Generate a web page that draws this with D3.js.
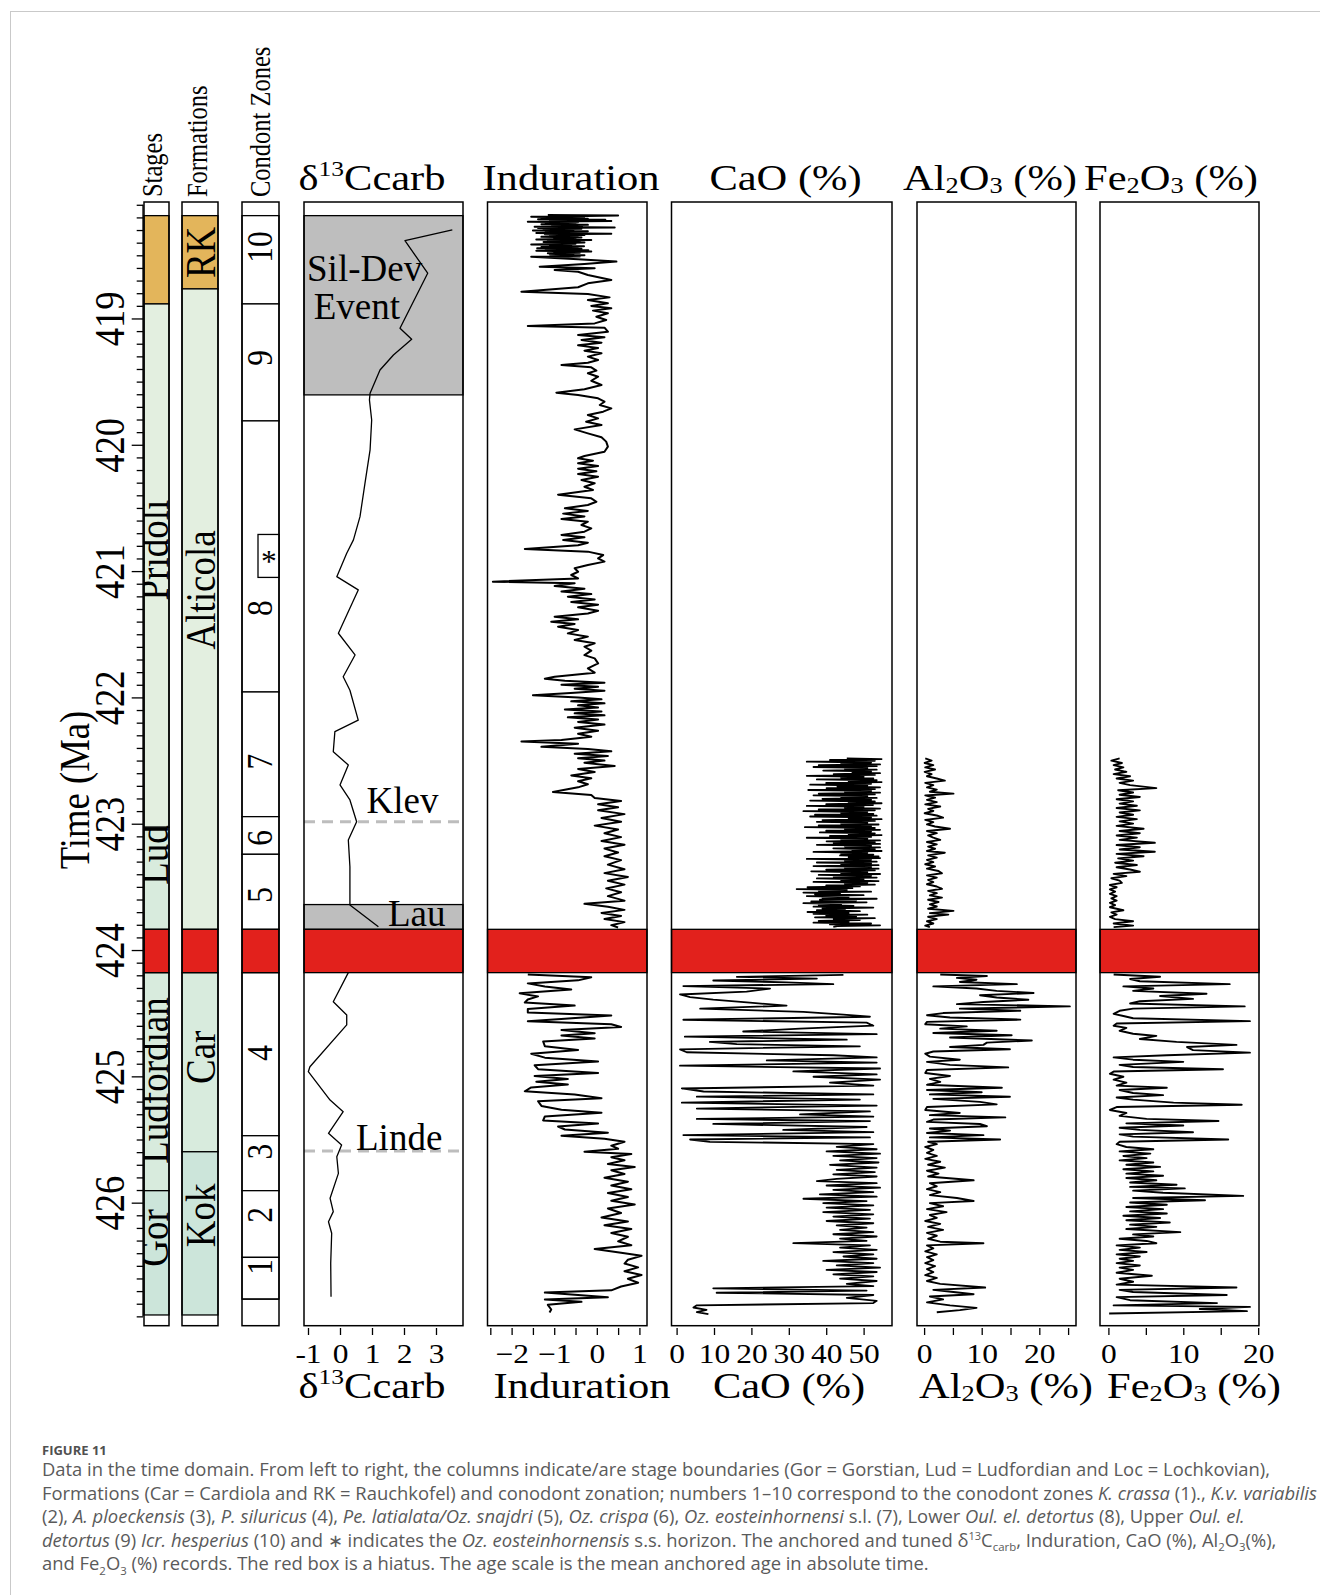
<!DOCTYPE html>
<html>
<head>
<meta charset="utf-8">
<script src="https://cdn.jsdelivr.net/npm/d3@7"></script>
<style>
  html, body { margin: 0; padding: 0; background: #fff; }
  svg { display: block; }
</style>
</head>
<body>
<svg id="fig" width="1320" height="1595"></svg>
<script>
// ---------------- data (ages in Ma) ----------------
const hiatus = [423.836, 424.179];

const stages = [
  { stage: "Lochkovian", label: "",           from: 418.186, to: 418.885 },
  { stage: "Pridoli",    label: "Pridoli",    from: 418.885, to: 423.028, labelAge: 420.834 },
  { stage: "Ludfordian", label: "Lud",        from: 423.028, to: 423.836, labelAge: 423.248 },
  { stage: "Ludfordian", label: "Ludfordian", from: 424.179, to: 425.905, labelAge: 425.033 },
  { stage: "Gorstian",   label: "Gor",        from: 425.905, to: 426.889, labelAge: 426.280 }
];

const formations = [
  { formation: "Rauchkofel", label: "RK",       from: 418.186, to: 418.766, labelAge: 418.477 },
  { formation: "Alticola",   label: "Alticola", from: 418.766, to: 423.836, labelAge: 421.149 },
  { formation: "Cardiola",   label: "Car",      from: 424.179, to: 425.597, labelAge: 424.849 },
  { formation: "Kok",        label: "Kok",      from: 425.597, to: 426.889, labelAge: 426.100 }
];

const conodontZones = [
  { zone: "10", from: 418.186, to: 418.885, labelAge: 418.434 },
  { zone: "9",  from: 418.885, to: 419.811, labelAge: 419.313 },
  { zone: "8",  from: 419.811, to: 421.957, labelAge: 421.293 },
  { zone: "7",  from: 421.957, to: 422.944, labelAge: 422.509 },
  { zone: "6",  from: 422.944, to: 423.242, labelAge: 423.113 },
  { zone: "5",  from: 423.242, to: 423.836, labelAge: 423.564 },
  { zone: "4",  from: 424.179, to: 425.470, labelAge: 424.814 },
  { zone: "3",  from: 425.470, to: 425.905, labelAge: 425.595 },
  { zone: "2",  from: 425.905, to: 426.433, labelAge: 426.097 },
  { zone: "1",  from: 426.433, to: 426.763, labelAge: 426.509 }
];

// Oz. eosteinhornensis s.s. horizon
const starHorizon = { from: 420.710, to: 421.050 };

// carbon-isotope events
const eventBoxes = [
  { name: "Sil-Dev", from: 418.186, to: 419.605 },
  { name: "Lau",     from: 423.640, to: 423.836 }
];
const eventLines = [
  { name: "Klev",  age: 422.984 },
  { name: "Linde", age: 425.590 }
];

const d13cCarb = [
  [418.299,3.51],[418.384,2.03],[418.642,2.74],[419.078,1.875],[419.165,2.24],[419.289,1.67],
  [419.408,1.25],[419.592,0.94],[419.645,0.92],[419.804,0.99],[420.041,0.94],[420.305,0.78],
  [420.569,0.625],[420.753,0.42],[420.859,0.21],[421.044,-0.10],[421.149,0.57],[421.492,-0.05],
  [421.664,0.47],[421.836,0.10],[421.943,0.31],[422.180,0.57],[422.271,-0.16],[422.430,-0.21],
  [422.535,0.26],[422.693,0.00],[422.812,0.31],[422.984,0.52],[423.129,0.26],[423.340,0.31],
  [423.604,0.31],[423.643,0.31],[423.815,1.20],
  [424.179,0.26],[424.409,-0.21],[424.514,0.21],[424.593,0.21],[424.924,-0.94],[424.963,-0.99],
  [425.188,-0.31],[425.280,0.10],[425.451,-0.36],[425.544,0.05],[425.636,-0.10],[425.768,-0.05],
  [425.965,-0.31],[426.071,-0.21],[426.151,-0.36],[426.242,-0.26],[426.480,-0.29],[426.744,-0.28]
];

const induration = [
  [418.181,-1.15],[418.184,0.50],[418.190,-0.60],[418.195,-1.54],[418.200,-0.30],[418.205,-1.30],
  [418.210,-0.21],[418.215,-1.38],[418.219,0.20],[418.224,-1.10],[418.229,0.34],[418.234,-1.62],
  [418.239,-0.44],[418.244,-1.20],[418.249,-0.50],[418.254,-1.30],[418.259,-0.21],[418.264,-1.05],
  [418.269,-0.35],[418.274,-1.46],[418.279,0.42],[418.284,-1.38],[418.289,-0.36],[418.294,-1.25],
  [418.299,-0.55],[418.304,-1.50],[418.309,-0.21],[418.314,-1.20],[418.319,-0.40],[418.324,-1.42],
  [418.329,0.34],[418.334,-1.22],[418.339,-0.29],[418.344,-1.10],[418.349,-0.45],[418.354,-1.30],
  [418.359,-0.36],[418.364,-1.00],[418.369,-0.50],[418.374,-1.42],[418.379,-0.13],[418.384,-1.15],
  [418.389,-0.40],[418.394,-1.25],[418.399,-0.29],[418.404,-0.95],[418.409,-0.50],[418.414,-1.54],
  [418.419,-0.60],[418.424,-1.10],[418.429,-0.30],[418.434,-1.30],[418.439,-0.45],[418.444,-1.40],
  [418.449,-0.36],[418.454,-1.20],[418.459,-0.20],[418.464,-1.42],[418.469,-0.13],[418.474,-1.00],
  [418.479,-0.40],[418.484,-1.15],[418.489,-0.55],[418.494,-1.10],[418.499,-0.29],[418.504,-0.90],
  [418.509,-0.40],[418.511,-1.54],
  [418.532,-0.44],[418.550,0.46],[418.569,-0.29],
  [418.590,-1.34],[418.603,-0.05],[418.616,-0.99],[418.630,-0.44],[418.656,-0.21],[418.695,0.34],
  [418.722,-0.21],[418.753,-0.44],[418.788,-1.77],[418.806,-0.21],[418.833,0.30],[418.854,-0.21],
  [418.880,0.26],[418.901,-0.13],[418.920,0.34],[418.938,-0.09],[418.959,0.26],[418.986,-0.01],
  [419.012,0.22],[419.039,-0.05],[419.060,-1.62],[419.073,0.18],[419.105,0.26],[419.131,-0.44],
  [419.149,0.18],[419.170,-0.36],[419.192,0.11],[419.213,-0.44],[419.234,0.03],[419.255,-0.29],
  [419.276,0.11],[419.302,-0.21],[419.329,0.03],[419.350,-0.21],[419.368,-0.83],[419.387,-0.13],
  [419.413,-0.01],[419.434,-0.21],[419.461,0.03],[419.493,-0.13],[419.527,0.11],[419.561,-0.29],
  [419.588,-0.95],[419.606,-0.44],[419.632,0.03],[419.659,0.18],[419.685,0.07],[419.712,0.34],
  [419.738,0.15],[419.764,-0.21],[419.791,0.03],[419.817,-0.25],[419.844,0.11],[419.878,-0.52],
  [419.910,-0.21],[419.941,0.11],[419.975,0.22],[420.015,0.26],[420.055,0.18],[420.089,-0.29],
  [420.107,-0.44],[420.126,-0.09],[420.147,-0.44],[420.168,0.03],[420.189,-0.44],[420.210,-0.01],
  [420.232,-0.44],[420.253,0.03],[420.279,-0.36],[420.305,-0.05],[420.332,-0.29],[420.358,-0.09],
  [420.395,-0.91],[420.424,-0.13],[420.451,-0.01],[420.477,-0.21],[420.503,-0.75],[420.524,-0.21],
  [420.545,-0.79],[420.567,-0.29],[420.588,-0.83],[420.609,-0.21],[420.635,-0.36],[420.662,-0.13],
  [420.688,-0.29],[420.714,-0.83],[420.733,-0.29],[420.754,-0.79],[420.775,-0.21],[420.796,-0.44],
  [420.825,-1.69],[420.846,-0.21],[420.873,0.15],[420.899,0.03],[420.925,0.18],[420.952,-0.21],
  [420.978,-0.52],[421.005,-0.44],[421.031,-0.60],[421.058,-0.44],[421.084,-2.44],[421.097,-0.52],
  [421.118,-0.99],[421.140,-0.29],[421.161,-0.83],[421.182,-0.13],[421.203,-0.68],[421.224,-0.05],
  [421.245,-0.60],[421.266,0.03],[421.287,-0.44],[421.314,0.03],[421.335,-0.21],[421.361,-0.99],
  [421.382,-0.44],[421.401,-1.07],[421.419,-0.52],[421.440,-0.91],[421.467,-0.44],[421.493,-0.68],
  [421.519,-0.21],[421.546,-0.52],[421.572,-0.05],[421.599,-0.29],[421.630,-0.13],[421.665,-0.29],
  [421.691,-0.05],[421.731,0.03],[421.770,-0.21],[421.804,-0.05],[421.836,-0.99],[421.852,-1.22],
  [421.868,-0.75],[421.884,0.18],[421.900,-0.83],[421.915,0.03],[421.931,-0.52],[421.947,0.18],
  [421.963,-0.52],[421.982,-1.50],[422.000,-0.44],[422.015,0.11],[422.031,-0.60],[422.047,0.18],
  [422.063,-0.44],[422.079,0.03],[422.095,-0.75],[422.111,0.11],[422.126,-0.52],[422.142,0.18],
  [422.158,-0.68],[422.174,0.03],[422.194,-0.44],[422.215,0.18],[422.240,-0.52],[422.264,0.03],
  [422.288,-0.44],[422.312,-0.13],[422.337,-0.83],[422.349,-1.77],[422.367,-0.44],[422.391,-1.30],
  [422.409,-0.21],[422.427,0.34],[422.446,-0.52],[422.464,0.26],[422.482,-0.44],[422.500,0.18],
  [422.518,-0.29],[422.543,0.42],[422.567,-0.44],[422.591,-0.05],[422.618,-0.60],[422.640,-0.13],
  [422.664,-0.44],[422.688,-0.21],[422.712,-0.44],[422.749,-1.03],[422.773,-0.13],[422.797,-0.05],
  [422.821,0.57],[422.846,0.03],[422.870,0.50],[422.894,0.03],[422.924,0.65],[422.955,0.11],
  [422.985,0.57],[423.015,-0.05],[423.046,0.50],[423.076,0.18],[423.106,0.57],[423.137,0.11],
  [423.167,0.65],[423.197,0.18],[423.228,0.50],[423.258,0.18],[423.288,0.57],[423.324,0.26],
  [423.361,0.65],[423.391,0.18],[423.421,0.73],[423.452,0.26],[423.482,0.65],[423.512,0.22],
  [423.543,0.57],[423.573,0.26],[423.609,0.65],[423.634,-0.29],[423.658,0.26],[423.682,0.65],
  [423.706,0.11],[423.730,0.57],[423.755,0.18],[423.779,0.65],[423.803,0.34],[423.821,0.50],
  [424.194,-1.62],[424.215,-0.13],[424.240,-0.44],[424.264,-1.62],[424.288,-1.22],[424.312,-0.60],
  [424.343,-1.81],[424.367,-1.38],[424.391,-1.62],[424.415,-1.69],[424.440,-0.52],[424.467,-1.62],
  [424.494,-1.62],[424.518,0.34],[424.543,-0.75],[424.564,-1.62],[424.588,0.34],[424.609,0.57],
  [424.633,-0.83],[424.658,-0.05],[424.676,-0.83],[424.700,-0.05],[424.724,-1.26],[424.761,-1.22],
  [424.791,-0.44],[424.821,-1.54],[424.852,-1.22],[424.882,0.03],[424.912,-1.46],[424.943,-1.38],
  [424.973,0.03],[424.997,-1.46],[425.021,-0.68],[425.043,-1.42],[425.064,-0.68],[425.088,-1.54],
  [425.118,-1.69],[425.143,-0.52],[425.173,0.11],[425.197,-1.38],[425.234,-1.30],[425.264,-0.83],
  [425.288,0.11],[425.318,-1.22],[425.349,-1.26],[425.373,0.03],[425.397,-0.91],[425.421,-0.75],
  [425.446,0.26],[425.470,-0.83],[425.494,0.18],[425.518,0.65],[425.549,0.34],[425.573,0.50],
  [425.597,-0.29],[425.615,0.81],[425.640,0.34],[425.664,0.65],[425.694,0.26],[425.718,0.89],
  [425.743,0.34],[425.773,0.65],[425.803,0.18],[425.834,0.73],[425.864,0.34],[425.894,0.81],
  [425.924,0.26],[425.955,0.73],[425.985,0.34],[426.015,0.89],[426.046,0.26],[426.082,0.57],
  [426.118,0.11],[426.149,0.73],[426.179,0.18],[426.209,0.81],[426.240,0.34],[426.270,0.73],
  [426.306,0.50],[426.337,0.81],[426.367,-0.05],[426.397,0.57],[426.421,1.05],[426.452,0.73],
  [426.482,0.65],[426.512,0.97],[426.543,0.65],[426.573,1.05],[426.603,0.73],[426.634,0.97],
  [426.664,0.57],[426.694,0.34],[426.712,-1.22],[426.730,-0.44],[426.749,0.26],[426.767,-1.22],
  [426.785,-0.36],[426.809,-1.15],[426.846,-1.07],[426.870,-1.11]
];

const caoPercent = [
  [422.483,45.5],[422.488,54.8],[422.495,41.0],[422.502,53.0],[422.509,34.8],[422.516,52.0],
  [422.523,44.0],[422.530,54.4],[422.537,38.0],[422.544,53.5],[422.551,36.6],[422.558,51.0],
  [422.565,45.0],[422.572,53.5],[422.579,39.2],[422.586,52.0],[422.593,47.0],[422.600,54.4],
  [422.607,42.0],[422.614,53.0],[422.621,34.8],[422.628,50.0],[422.635,44.0],[422.642,52.6],
  [422.649,37.5],[422.656,53.5],[422.663,46.0],[422.670,54.8],[422.677,40.0],[422.684,52.0],
  [422.691,35.7],[422.698,51.0],[422.705,43.0],[422.712,54.4],[422.719,40.1],[422.726,53.0],
  [422.733,35.2],[422.740,52.0],[422.747,45.0],[422.754,54.4],[422.761,38.0],[422.768,53.0],
  [422.775,36.6],[422.782,51.0],[422.789,44.0],[422.796,53.5],[422.803,39.0],[422.810,52.0],
  [422.817,35.7],[422.824,53.0],[422.831,46.0],[422.838,54.8],[422.845,40.0],[422.852,52.5],
  [422.859,34.8],[422.866,50.0],[422.873,45.0],[422.880,54.4],[422.887,38.0],[422.894,53.0],
  [422.901,33.9],[422.908,51.0],[422.915,44.0],[422.922,52.6],[422.929,37.0],[422.936,53.5],
  [422.943,35.7],[422.950,52.0],[422.957,46.0],[422.964,54.8],[422.971,39.0],[422.978,53.0],
  [422.985,37.5],[422.992,51.0],[422.999,44.0],[423.006,54.0],[423.013,38.0],[423.020,52.0],
  [423.027,34.3],[423.034,53.0],[423.041,45.0],[423.048,54.4],[423.055,40.0],[423.062,52.0],
  [423.069,38.3],[423.076,53.0],[423.083,46.0],[423.090,54.8],[423.097,41.0],[423.104,52.0],
  [423.111,34.8],[423.118,51.0],[423.125,44.0],[423.132,54.4],[423.139,40.1],[423.146,53.0],
  [423.153,42.0],[423.160,54.4],[423.167,37.5],[423.174,52.0],[423.181,45.0],[423.188,54.4],
  [423.195,41.9],[423.202,53.0],[423.209,47.0],[423.216,54.8],[423.223,36.6],[423.230,51.0],
  [423.237,44.0],[423.244,52.6],[423.251,43.7],[423.258,54.0],[423.265,46.0],[423.272,54.4],
  [423.279,34.8],[423.286,52.0],[423.293,45.0],[423.300,53.5],[423.307,37.5],[423.314,52.0],
  [423.321,44.0],[423.328,54.0],[423.335,36.6],[423.342,52.0],[423.349,45.0],[423.356,54.0],
  [423.363,40.0],[423.370,53.0],[423.377,36.0],[423.384,51.0],[423.391,44.0],[423.398,54.4],
  [423.405,38.0],[423.412,52.0],[423.419,42.0],[423.426,53.5],[423.433,37.5],[423.440,50.0],
  [423.447,44.0],[423.454,54.0],[423.461,36.6],[423.468,51.0],[423.475,45.0],[423.482,53.0],
  [423.489,40.0],[423.496,49.0],[423.503,35.0],[423.510,47.0],[423.517,32.1],[423.524,45.5],
  [423.531,38.0],[423.538,52.0],[423.545,33.9],[423.552,43.7],[423.559,37.0],[423.566,50.0],
  [423.573,34.8],[423.580,46.0],[423.587,39.0],[423.594,53.5],[423.601,38.3],[423.608,48.0],
  [423.615,36.0],[423.622,50.8],[423.629,33.9],[423.636,44.0],[423.643,38.0],[423.650,47.3],
  [423.657,36.6],[423.664,52.6],[423.671,39.0],[423.678,45.0],[423.685,37.5],[423.692,49.0],
  [423.699,35.0],[423.706,46.0],[423.713,36.6],[423.720,51.0],[423.727,40.0],[423.734,48.0],
  [423.741,37.0],[423.748,53.0],[423.755,42.0],[423.762,49.0],[423.769,38.0],[423.776,46.0],
  [423.783,36.6],[423.790,52.0],[423.797,41.0],[423.804,54.4],[423.811,43.0],[423.816,41.9],
  [424.197,44.6],[424.212,16.1],[424.226,37.5],[424.241,9.8],[424.256,29.4],[424.270,41.9],
  [424.285,1.8],[424.305,25.0],[424.329,18.7],[424.352,0.9],[424.373,3.6],[424.393,9.8],
  [424.417,19.6],[424.440,29.4],[424.464,6.3],[424.490,33.9],[424.511,44.6],[424.528,51.7],
  [424.552,1.8],[424.575,50.8],[424.599,52.6],[424.622,33.0],[424.645,17.8],[424.666,53.5],
  [424.686,2.2],[424.710,45.5],[424.727,8.9],[424.745,16.1],[424.762,49.0],[424.786,0.9],
  [424.809,2.7],[424.833,41.9],[424.850,53.5],[424.874,24.1],[424.891,53.5],[424.915,0.9],
  [424.938,54.4],[424.961,31.2],[424.985,53.5],[425.003,36.6],[425.026,54.4],[425.050,41.0],
  [425.073,52.6],[425.096,1.4],[425.120,7.2],[425.143,52.6],[425.161,5.4],[425.184,49.0],
  [425.208,1.4],[425.231,53.5],[425.255,5.4],[425.278,51.7],[425.301,33.0],[425.319,52.6],
  [425.337,5.4],[425.354,51.7],[425.377,9.8],[425.401,50.8],[425.424,28.5],[425.442,52.6],
  [425.465,1.8],[425.483,51.7],[425.500,3.6],[425.518,8.9],[425.536,52.6],[425.559,42.8],
  [425.577,53.5],[425.594,40.1],[425.612,54.4],[425.630,41.9],[425.647,53.5],[425.665,43.7],
  [425.682,54.0],[425.700,41.0],[425.723,53.5],[425.741,42.8],[425.758,53.0],[425.776,41.9],
  [425.793,53.5],[425.811,42.8],[425.829,37.5],[425.846,53.5],[425.864,40.1],[425.881,54.4],
  [425.899,41.9],[425.917,52.6],[425.934,38.3],[425.952,53.5],[425.969,33.9],[425.987,50.8],
  [426.004,39.2],[426.022,52.6],[426.040,40.1],[426.057,51.7],[426.075,39.2],[426.092,52.6],
  [426.110,41.9],[426.127,51.7],[426.145,40.1],[426.163,52.6],[426.180,42.8],[426.198,50.8],
  [426.215,43.7],[426.233,52.6],[426.250,41.9],[426.268,53.5],[426.285,43.7],[426.303,50.8],
  [426.321,31.2],[426.338,51.7],[426.356,43.7],[426.374,53.5],[426.391,41.9],[426.409,52.6],
  [426.426,44.6],[426.444,53.5],[426.461,39.2],[426.479,52.6],[426.497,42.8],[426.514,54.4],
  [426.532,40.1],[426.549,53.5],[426.567,41.9],[426.584,52.6],[426.602,43.7],[426.620,53.5],
  [426.643,45.5],[426.661,52.6],[426.678,9.8],[426.696,50.8],[426.713,10.7],[426.731,52.6],
  [426.754,45.5],[426.777,53.5],[426.795,52.6],[426.813,5.4],[426.830,4.5],[426.848,8.0],
  [426.866,5.4],[426.883,8.5]
];

const al2o3Percent = [
  [422.483,0.2],[422.501,1.3],[422.519,0.1],[422.536,1.6],[422.554,0.2],[422.571,1.9],
  [422.589,0.1],[422.607,1.3],[422.624,0.5],[422.642,2.2],[422.659,3.6],[422.677,0.2],
  [422.694,1.6],[422.712,0.5],[422.730,2.2],[422.747,1.0],[422.762,5.1],[422.776,0.2],
  [422.794,1.9],[422.811,0.5],[422.829,2.2],[422.847,0.2],[422.864,2.8],[422.882,0.7],
  [422.899,1.6],[422.917,0.1],[422.935,2.2],[422.952,3.3],[422.970,0.2],[422.987,1.6],
  [423.005,0.5],[423.022,1.9],[423.040,4.5],[423.058,0.5],[423.075,2.2],[423.093,0.7],
  [423.110,1.6],[423.128,2.8],[423.145,0.5],[423.163,2.2],[423.181,0.7],[423.198,1.9],
  [423.216,0.5],[423.230,3.6],[423.251,0.7],[423.268,2.2],[423.286,0.5],[423.304,1.6],
  [423.321,0.2],[423.339,1.9],[423.356,0.5],[423.374,2.5],[423.392,3.1],[423.409,0.5],
  [423.427,2.2],[423.444,0.7],[423.462,1.6],[423.479,0.5],[423.497,2.2],[423.515,3.1],
  [423.532,0.7],[423.550,2.2],[423.567,1.0],[423.585,3.1],[423.602,0.7],[423.620,2.5],
  [423.638,1.0],[423.655,2.2],[423.673,0.7],[423.690,5.1],[423.708,1.0],[423.720,4.2],
  [423.737,0.7],[423.755,2.2],[423.772,0.5],[423.790,1.6],[423.807,0.2],[423.819,1.0],
  [424.194,2.8],[424.206,10.9],[424.220,5.7],[424.235,9.1],[424.253,6.2],[424.270,16.1],
  [424.288,1.6],[424.305,9.1],[424.323,12.6],[424.340,19.0],[424.358,9.7],[424.376,12.6],
  [424.393,18.1],[424.411,10.3],[424.428,5.7],[424.446,25.3],[424.464,6.2],[424.481,16.7],
  [424.499,3.3],[424.516,0.5],[424.534,4.5],[424.551,16.7],[424.569,0.5],[424.587,0.2],
  [424.604,7.4],[424.622,2.8],[424.639,12.6],[424.657,1.6],[424.675,15.2],[424.692,4.5],
  [424.716,18.7],[424.733,10.9],[424.751,10.3],[424.768,4.5],[424.786,14.9],[424.803,1.6],
  [424.821,0.2],[424.844,1.0],[424.868,6.2],[424.885,0.5],[424.909,4.5],[424.929,14.6],
  [424.950,0.5],[424.973,0.2],[424.997,4.5],[425.020,1.0],[425.044,2.8],[425.067,0.5],
  [425.090,13.5],[425.108,0.5],[425.126,10.0],[425.143,1.0],[425.161,14.9],[425.178,1.6],
  [425.202,9.7],[425.222,12.6],[425.243,0.5],[425.266,0.2],[425.290,6.2],[425.307,1.0],
  [425.325,14.1],[425.342,1.6],[425.360,0.5],[425.377,9.7],[425.395,10.9],[425.413,1.0],
  [425.430,4.5],[425.448,0.5],[425.465,10.3],[425.483,1.0],[425.500,13.2],[425.518,0.7],
  [425.537,2.2],[425.559,0.2],[425.583,1.6],[425.606,0.5],[425.630,2.2],[425.653,0.2],
  [425.676,2.8],[425.700,0.7],[425.723,3.6],[425.747,0.5],[425.770,2.5],[425.793,0.7],
  [425.823,8.6],[425.846,1.0],[425.870,2.2],[425.893,0.5],[425.917,2.8],[425.940,1.0],
  [425.963,5.7],[425.987,8.6],[426.004,1.0],[426.028,3.3],[426.051,0.5],[426.075,3.9],
  [426.098,1.0],[426.121,2.2],[426.145,0.2],[426.168,2.8],[426.192,0.7],[426.215,3.3],
  [426.239,0.5],[426.262,2.2],[426.286,0.7],[426.309,2.8],[426.321,10.3],[426.338,0.5],
  [426.362,1.6],[426.385,0.2],[426.409,2.2],[426.432,0.5],[426.455,1.6],[426.479,0.2],
  [426.502,1.9],[426.526,0.5],[426.549,1.6],[426.573,0.2],[426.596,2.2],[426.620,0.5],
  [426.643,2.8],[426.672,10.6],[426.690,1.6],[426.707,5.1],[426.725,8.6],[426.743,1.0],
  [426.766,3.3],[426.789,0.5],[426.813,4.5],[426.833,9.1],[426.851,6.2],[426.868,2.2]
];

const fe2o3Percent = [
  [422.483,1.5],[422.501,0.4],[422.519,1.8],[422.536,0.7],[422.554,2.0],[422.571,0.9],
  [422.589,2.4],[422.607,0.7],[422.624,2.9],[422.642,1.1],[422.659,3.3],[422.677,1.5],
  [422.694,2.9],[422.718,6.4],[422.735,1.3],[422.753,3.3],[422.771,1.5],[422.788,4.2],
  [422.806,1.1],[422.823,3.3],[422.841,1.5],[422.858,3.8],[422.876,1.1],[422.894,4.2],
  [422.911,1.5],[422.929,3.3],[422.946,1.1],[422.964,3.8],[422.981,1.5],[422.999,3.3],
  [423.017,1.1],[423.040,4.7],[423.058,1.5],[423.075,4.2],[423.093,1.1],[423.110,3.8],
  [423.128,1.5],[423.151,6.2],[423.169,1.1],[423.186,4.2],[423.204,1.5],[423.222,6.2],
  [423.239,1.1],[423.257,4.7],[423.274,1.3],[423.292,3.3],[423.309,0.9],[423.327,3.8],
  [423.345,1.1],[423.362,2.9],[423.380,4.2],[423.397,0.7],[423.415,2.4],[423.432,0.4],
  [423.450,1.5],[423.468,1.8],[423.485,0.2],[423.503,1.1],[423.520,0.2],[423.538,0.9],
  [423.555,0.2],[423.573,1.1],[423.591,0.4],[423.608,1.1],[423.626,0.2],[423.644,0.9],
  [423.661,0.2],[423.685,2.0],[423.702,0.4],[423.720,1.1],[423.737,0.2],[423.755,0.9],
  [423.772,3.3],[423.790,0.7],[423.807,3.3],[423.819,0.7],
  [424.194,0.7],[424.212,6.9],[424.229,2.9],[424.247,4.2],[424.270,16.2],[424.288,2.0],
  [424.305,6.0],[424.323,3.3],[424.346,13.1],[424.364,6.9],[424.387,11.3],[424.405,4.2],
  [424.423,2.9],[424.446,18.2],[424.464,3.3],[424.481,1.5],[424.505,0.7],[424.522,2.0],
  [424.540,3.3],[424.563,18.9],[424.581,1.1],[424.599,0.7],[424.616,2.4],[424.639,1.5],
  [424.663,3.3],[424.680,6.4],[424.704,4.2],[424.727,9.1],[424.751,17.1],[424.768,10.5],
  [424.792,11.3],[424.812,18.9],[424.833,7.8],[424.850,0.7],[424.868,3.3],[424.885,10.0],
  [424.909,1.5],[424.926,3.3],[424.944,15.3],[424.962,0.7],[424.979,0.2],[425.003,2.0],
  [425.026,0.7],[425.050,2.4],[425.073,1.1],[425.090,7.8],[425.108,1.5],[425.132,3.3],
  [425.149,7.3],[425.167,1.1],[425.184,3.3],[425.208,8.7],[425.225,17.8],[425.243,1.1],
  [425.266,0.2],[425.290,2.4],[425.313,1.5],[425.337,5.1],[425.354,14.7],[425.372,2.4],
  [425.389,10.0],[425.407,1.5],[425.424,4.2],[425.442,11.3],[425.459,1.5],[425.477,3.3],
  [425.500,16.0],[425.518,1.5],[425.537,1.1],[425.559,2.4],[425.577,6.0],[425.594,1.5],
  [425.612,5.6],[425.630,2.0],[425.647,5.1],[425.665,1.5],[425.682,6.0],[425.700,2.4],
  [425.717,6.9],[425.735,2.0],[425.752,6.0],[425.770,2.4],[425.787,7.3],[425.805,2.4],
  [425.823,6.4],[425.840,2.9],[425.858,9.1],[425.875,2.9],[425.887,10.2],[425.905,3.3],
  [425.922,7.3],[425.946,18.0],[425.963,3.3],[425.981,12.9],[425.999,2.9],[426.016,7.8],
  [426.034,2.4],[426.051,7.3],[426.069,2.9],[426.086,7.8],[426.104,2.0],[426.121,6.9],
  [426.139,2.4],[426.157,8.2],[426.174,2.9],[426.192,6.4],[426.209,2.4],[426.233,9.6],
  [426.251,3.3],[426.268,6.0],[426.286,1.5],[426.303,5.1],[426.321,6.4],[426.338,1.1],
  [426.356,4.2],[426.374,1.5],[426.391,5.1],[426.409,1.1],[426.426,4.2],[426.444,1.5],
  [426.461,3.3],[426.479,1.1],[426.497,4.2],[426.514,1.5],[426.532,3.3],[426.555,1.1],
  [426.579,5.8],[426.602,1.5],[426.626,3.3],[426.649,1.1],[426.672,17.1],[426.690,1.5],
  [426.707,3.3],[426.731,15.8],[426.748,1.1],[426.772,2.9],[426.795,14.5],[426.813,0.7],
  [426.825,18.9],[426.842,12.2],[426.859,18.5],[426.877,0.1]
];

// tick values shown on each lower axis
const d13cTicks = [-1, 0, 1, 2, 3];
const indurationTicks = [-2.5, -2, -1.5, -1, -0.5, 0, 0.5, 1];
const indurationTickLabels = [-2, -1, 0, 1];
const caoTicks = [0, 10, 20, 30, 40, 50];
const al2o3Ticks = [0, 5, 10, 15, 20, 25];
const fe2o3Ticks = [0, 5, 10, 15, 20];
const oxideTickLabels = [0, 10, 20];

// ---------------- styling ----------------
const SERIF = "'Liberation Serif', 'Times New Roman', Times, serif";
const SANS = "'Open Sans', Lato, sans-serif";
const WIDE = 1.165;          // horizontal stretch of the chart lettering
const RED = "#e2211c";
const GREY = "#bebebe";
const stageColor = { Lochkovian: "#e3b55b", Pridoli: "#e3efe0", Ludfordian: "#d8ebdd", Gorstian: "#cce5da" };
const formationColor = { Rauchkofel: "#e3b55b", Alticola: "#e3efe0", Cardiola: "#d8ebdd", Kok: "#cce5da" };

const svg = d3.select("#fig");
const TOP = 202, BOTTOM = 1325.7;

// age axis shared by every column and panel
const y = d3.scaleLinear().domain([418.078, 426.974]).range([TOP, BOTTOM]);

// outer frame of the figure
svg.append("rect").attr("x", 10.5).attr("y", 11.5).attr("width", 1400).attr("height", 1700)
  .attr("fill", "none").attr("stroke", "#c9c9c9").attr("stroke-width", 1);

function putText(parent, str, x, yy, o = {}) {
  const sx = o.sx == null ? WIDE : o.sx;
  const t = parent.append("text")
    .attr("transform", `translate(${x},${yy}) scale(${sx},1)` + (o.rotate ? " rotate(-90)" : ""))
    .attr("text-anchor", o.anchor || "middle")
    .attr("font-family", o.family || SERIF)
    .attr("font-size", o.size || 36.5)
    .attr("fill", o.fill || "#000");
  if (o.weight) t.attr("font-weight", o.weight);
  if (str != null) t.text(str);
  return t;
}

// text built from runs: [string, kind] where kind is "n", "sup", "sub" or "i"
function richText(t, runs, size, supShift, subShift) {
  let shift = 0;
  runs.forEach(([s, kind]) => {
    let target = 0, fs = size;
    if (kind === "sup") { target = -supShift; fs = size * 0.6; }
    if (kind === "sub") { target = subShift; fs = size * 0.62; }
    const ts = t.append("tspan").attr("font-size", fs).attr("dy", target - shift).text(s);
    if (kind === "i") ts.attr("font-style", "italic");
    shift = target;
  });
}

// ---------------- left age axis ----------------
const ageTicks = d3.range(4181, 4270).map(v => v / 10);
const isWhole = d => Math.abs(d - Math.round(d)) < 1e-6;
const yAxis = svg.append("g").attr("transform", "translate(143,0)")
  .call(d3.axisLeft(y).tickValues(ageTicks).tickSize(6.3).tickFormat(d => isWhole(d) ? String(Math.round(d)) : ""));
yAxis.select(".domain").remove();
yAxis.selectAll(".tick line").attr("x2", d => isWhole(d) ? -11.3 : -6.3).attr("stroke-width", 1.3);
yAxis.selectAll(".tick text")
  .attr("x", null).attr("dy", null)
  .attr("text-anchor", "middle")
  .attr("font-family", SERIF).attr("font-size", 36.5).attr("fill", "#000")
  .attr("transform", `translate(-19,0) scale(${WIDE},1) rotate(-90)`);
svg.append("line").attr("x1", 143).attr("x2", 143).attr("y1", y(418.1)).attr("y2", y(426.9))
  .attr("stroke", "#000").attr("stroke-width", 1.3);
putText(svg, "Time (Ma)", 89, 790, { rotate: true, size: 36.7 });

// ---------------- stratigraphic columns ----------------
const columns = [
  { title: "Stages", x0: 144, x1: 169, titleX: 161.5, cells: stages, fill: d => stageColor[d.stage],
    labelX: 168.3, labelSize: 37, clip: true },
  { title: "Formations", x0: 182, x1: 218, titleX: 206.5, cells: formations, fill: d => formationColor[d.formation],
    labelX: 214.5, labelSize: 37 },
  { title: "Condont Zones", x0: 242, x1: 279, titleX: 270, cells: conodontZones, fill: () => "#fff",
    labelX: 271.5, labelSize: 31.5 }
];

columns.forEach((c, i) => {
  const g = svg.append("g");
  g.append("rect").attr("x", c.x0).attr("y", TOP).attr("width", c.x1 - c.x0).attr("height", BOTTOM - TOP)
    .attr("fill", "#fff").attr("stroke", "none");
  g.selectAll("rect.cell").data(c.cells).join("rect").attr("class", "cell")
    .attr("x", c.x0).attr("width", c.x1 - c.x0)
    .attr("y", d => y(d.from)).attr("height", d => y(d.to) - y(d.from))
    .attr("fill", c.fill).attr("stroke", "#000").attr("stroke-width", 1.3);
  if (c.title === "Condont Zones") {
    g.append("line").attr("x1", c.x0).attr("x2", c.x1).attr("y1", y(426.763)).attr("y2", y(426.763))
      .attr("stroke", "#000").attr("stroke-width", 1.3);
    g.append("rect").attr("x", 258).attr("width", c.x1 - 258)
      .attr("y", y(starHorizon.from)).attr("height", y(starHorizon.to) - y(starHorizon.from))
      .attr("fill", "#fff").attr("stroke", "#000").attr("stroke-width", 1.3);
    putText(g, "*", 268.8, (y(starHorizon.from) + y(starHorizon.to)) / 2 + 16.5, { size: 31.5, sx: 1 });
  }
  g.append("rect").attr("x", c.x0).attr("width", c.x1 - c.x0)
    .attr("y", y(hiatus[0])).attr("height", y(hiatus[1]) - y(hiatus[0]))
    .attr("fill", RED).attr("stroke", "#000").attr("stroke-width", 1.3);

  let lg = g;
  if (c.clip) {
    const id = "clip-col-" + i;
    svg.append("clipPath").attr("id", id).append("rect")
      .attr("x", c.x0).attr("y", TOP).attr("width", c.x1 - c.x0).attr("height", BOTTOM - TOP);
    lg = g.append("g").attr("clip-path", `url(#${id})`);
  }
  c.cells.filter(d => d.label || d.zone).forEach(d => {
    putText(lg, d.label || d.zone, c.labelX, y(d.labelAge), { rotate: true, size: c.labelSize });
  });
  g.append("rect").attr("x", c.x0).attr("y", TOP).attr("width", c.x1 - c.x0).attr("height", BOTTOM - TOP)
    .attr("fill", "none").attr("stroke", "#000").attr("stroke-width", 1.5);
  putText(svg, c.title, c.titleX, 197, { rotate: true, size: 24.5, anchor: "start" });
});

// ---------------- data panels ----------------
const panels = [
  { key: "d13c", x0: 304, x1: 463, domain: [-1.125, 3.844], data: d13cCarb, lw: 1.3,
    ticks: d13cTicks, tickLabels: d13cTicks, fmt: d => (d < 0 ? "-" + Math.abs(d) : String(d)),
    title: [["δ", "n"], ["13", "sup"], ["Ccarb", "n"]], topX: 372, botX: 372 },
  { key: "ind", x0: 487.5, x1: 647, domain: [-2.566, 1.178], data: induration, lw: 2,
    ticks: indurationTicks, tickLabels: indurationTickLabels, fmt: d => (d < 0 ? "\u2212" + Math.abs(d) : String(d)),
    title: [["Induration", "n"]], topX: 571, botX: 582 },
  { key: "cao", x0: 671.5, x1: 892, domain: [-1.364, 57.59], data: caoPercent, lw: 1.8,
    ticks: caoTicks, tickLabels: caoTicks, fmt: String,
    title: [["CaO (%)", "n"]], topX: 785.5, botX: 789 },
  { key: "al", x0: 917, x1: 1076, domain: [-1.233, 26.37], data: al2o3Percent, lw: 1.9,
    ticks: al2o3Ticks, tickLabels: oxideTickLabels, fmt: String,
    title: [["Al", "n"], ["2", "sub"], ["O", "n"], ["3", "sub"], [" (%)", "n"]], topX: 990, botX: 1006 },
  { key: "fe", x0: 1100, x1: 1259, domain: [-1.121, 20.11], data: fe2o3Percent, lw: 1.9,
    ticks: fe2o3Ticks, tickLabels: oxideTickLabels, fmt: String,
    title: [["Fe", "n"], ["2", "sub"], ["O", "n"], ["3", "sub"], [" (%)", "n"]], topX: 1171, botX: 1194 }
];

panels.forEach(p => {
  const x = d3.scaleLinear().domain(p.domain).range([p.x0, p.x1]);
  const g = svg.append("g");
  const clipId = "clip-" + p.key;
  svg.append("clipPath").attr("id", clipId).append("rect")
    .attr("x", p.x0).attr("y", TOP).attr("width", p.x1 - p.x0).attr("height", BOTTOM - TOP);

  g.append("rect").attr("x", p.x0).attr("y", TOP).attr("width", p.x1 - p.x0).attr("height", BOTTOM - TOP)
    .attr("fill", "#fff");

  if (p.key === "d13c") {
    g.selectAll("rect.event").data(eventBoxes).join("rect").attr("class", "event")
      .attr("x", p.x0).attr("width", p.x1 - p.x0)
      .attr("y", d => y(d.from)).attr("height", d => y(d.to) - y(d.from))
      .attr("fill", GREY).attr("stroke", "#000").attr("stroke-width", 1.3);
    g.selectAll("line.event").data(eventLines).join("line").attr("class", "event")
      .attr("x1", p.x0).attr("x2", p.x1).attr("y1", d => y(d.age)).attr("y2", d => y(d.age))
      .attr("stroke", "#bdbdbd").attr("stroke-width", 3).attr("stroke-dasharray", "11,7");
  }

  const line = d3.line().x(d => x(d[1])).y(d => y(d[0]));
  const above = p.data.filter(d => d[0] <= hiatus[0]);
  const below = p.data.filter(d => d[0] >= hiatus[1]);
  const lg = g.append("g").attr("clip-path", `url(#${clipId})`);
  [above, below].forEach(part => {
    if (part.length > 1) {
      lg.append("path").attr("d", line(part)).attr("fill", "none").attr("stroke", "#000")
        .attr("stroke-width", p.lw).attr("stroke-linejoin", "round");
    }
  });

  g.append("rect").attr("x", p.x0).attr("width", p.x1 - p.x0)
    .attr("y", y(hiatus[0])).attr("height", y(hiatus[1]) - y(hiatus[0]))
    .attr("fill", RED).attr("stroke", "#000").attr("stroke-width", 1.3);
  g.append("rect").attr("x", p.x0).attr("y", TOP).attr("width", p.x1 - p.x0).attr("height", BOTTOM - TOP)
    .attr("fill", "none").attr("stroke", "#000").attr("stroke-width", 1.5);

  if (p.key === "d13c") {
    putText(g, "Sil-Dev", x(-1.03), y(418.703), { sx: 1, size: 37, anchor: "start" });
    putText(g, "Event", x(-0.82), y(419.004), { sx: 1, size: 37, anchor: "start" });
    putText(g, "Klev", x(0.83), y(422.915), { sx: 1, size: 37, anchor: "start" });
    putText(g, "Lau", x(1.5), y(423.81), { sx: 1, size: 37, anchor: "start" });
    putText(g, "Linde", x(0.5), y(425.58), { sx: 1, size: 37, anchor: "start" });
  }

  // bottom axis
  const ax = svg.append("g").attr("transform", `translate(0,${BOTTOM + 2.3})`)
    .call(d3.axisBottom(x).tickValues(p.ticks).tickSize(7)
      .tickFormat(d => (p.tickLabels.includes(d) ? p.fmt(d) : "")));
  ax.select(".domain").remove();
  ax.selectAll(".tick line").attr("stroke-width", 1.3);
  ax.selectAll(".tick text")
    .attr("y", null).attr("dy", null)
    .attr("font-family", SERIF).attr("font-size", 27).attr("fill", "#000")
    .attr("transform", `translate(0,35) scale(${WIDE},1)`);

  // titles above and below
  richText(putText(svg, null, p.topX, 190, { size: 36.5 }), p.title, 36.5, 14, 3);
  richText(putText(svg, null, p.botX, 1398, { size: 36.5 }), p.title, 36.5, 14, 3);
});

// ---------------- caption ----------------
const cap = svg.append("g");
cap.append("text").attr("x", 42).attr("y", 1455).attr("font-family", SANS).attr("font-size", 13)
  .attr("font-weight", 700).attr("fill", "#505050").text("FIGURE 11");
const captionLines = [
  [["Data in the time domain. From left to right, the columns indicate/are stage boundaries (Gor = Gorstian, Lud = Ludfordian and Loc = Lochkovian),", "n"]],
  [["Formations (Car = Cardiola and RK = Rauchkofel) and conodont zonation; numbers 1\u201310 correspond to the conodont zones ", "n"],
   ["K. crassa", "i"], [" (1)., ", "n"], ["K.v. variabilis", "i"]],
  [["(2), ", "n"], ["A. ploeckensis", "i"], [" (3), ", "n"], ["P. siluricus", "i"], [" (4), ", "n"],
   ["Pe. latialata/Oz. snajdri", "i"], [" (5), ", "n"], ["Oz. crispa", "i"], [" (6), ", "n"],
   ["Oz. eosteinhornensi", "i"], [" s.l. (7), Lower ", "n"], ["Oul. el. detortus", "i"], [" (8), Upper ", "n"], ["Oul. el.", "i"]],
  [["detortus", "i"], [" (9) ", "n"], ["Icr. hesperius", "i"], [" (10) and \u2217 indicates the ", "n"],
   ["Oz. eosteinhornensis", "i"], [" s.s. horizon. The anchored and tuned \u03b4", "n"], ["13", "sup"], ["C", "n"],
   ["carb", "sub"], [", Induration, CaO (%), Al", "n"], ["2", "sub"], ["O", "n"], ["3", "sub"], ["(%),", "n"]],
  [["and Fe", "n"], ["2", "sub"], ["O", "n"], ["3", "sub"], [" (%) records. The red box is a hiatus. The age scale is the mean anchored age in absolute time.", "n"]]
];
const capBase = [1476, 1499.5, 1523, 1546.7, 1570];
captionLines.forEach((runs, i) => {
  const t = cap.append("text").attr("x", 42).attr("y", capBase[i])
    .attr("font-family", SANS).attr("font-size", 18.4).attr("fill", "#5a5a5a");
  richText(t, runs, 18.4, 6.5, 4.5);
});
</script>
</body>
</html>
